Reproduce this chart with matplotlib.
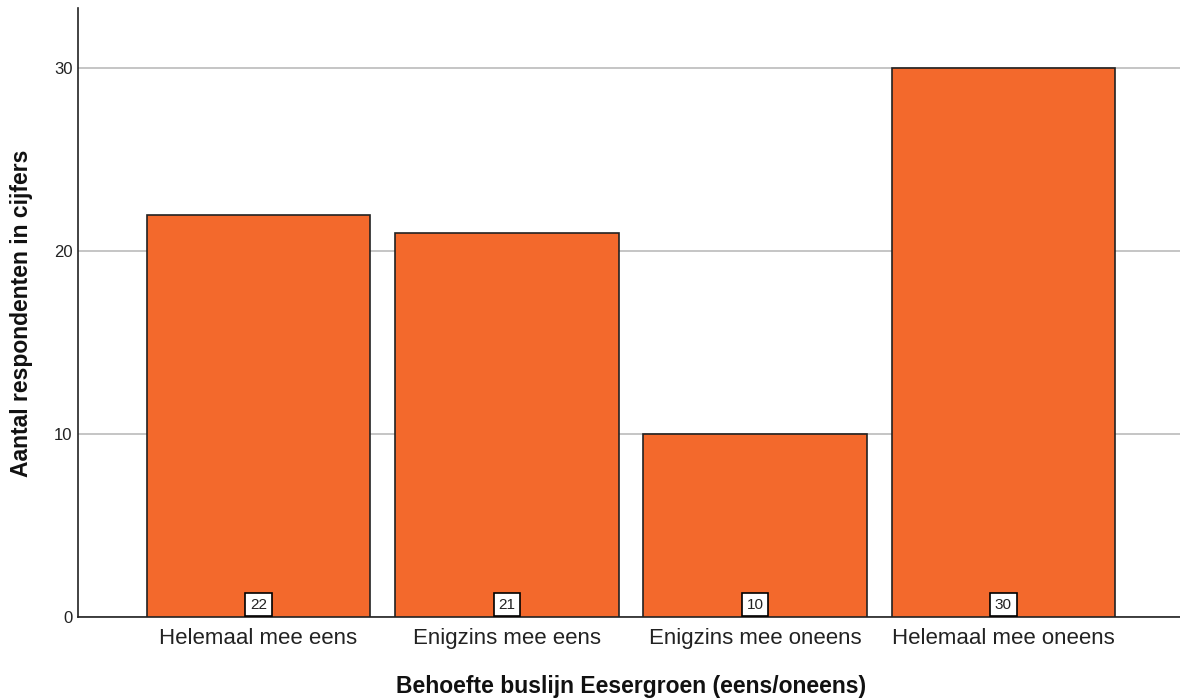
import matplotlib
matplotlib.use("Agg")
import matplotlib.pyplot as plt

plt.rcParams['font.family'] = ['Liberation Sans', 'DejaVu Sans']

categories = ["Helemaal mee eens", "Enigzins mee eens", "Enigzins mee oneens", "Helemaal mee oneens"]
counts = [22, 21, 10, 30]
yticks = [0, 10, 20, 30]

W, H = 1180, 699
fig = plt.figure(figsize=(W/100, H/100), dpi=100)
ax = fig.add_axes([78/W, 82/H, 1 - 78/W, (617-8)/H])

x = list(range(len(categories)))
ax.bar(x, counts, width=0.9, color="#F3692C", edgecolor="#222222", linewidth=1.2, zorder=3)
for xi, v in zip(x, counts):
    ax.text(xi, 0.28, str(v), ha="center", va="bottom", fontsize=11, color="#222222", zorder=4,
            bbox=dict(boxstyle="square,pad=0.3", fc="white", ec="black", lw=1.2))

ax.set_xlim(-0.727, 3.711)
ax.set_ylim(0, 33.3)
ax.set_yticks(yticks)
ax.set_xticks(x)
ax.set_xticklabels(categories, fontsize=16, color="#222222")
ax.tick_params(axis="y", labelsize=12, length=0, pad=4, colors="#222222")
ax.tick_params(axis="x", length=0, pad=8)
ax.grid(axis="y", color="#BBBBBB", linewidth=1.2, zorder=0)
ax.set_axisbelow(True)
for s in ["top", "right"]:
    ax.spines[s].set_visible(False)
for s in ["left", "bottom"]:
    ax.spines[s].set_linewidth(1.2)
    ax.spines[s].set_color("#222222")

fig.text(631/W, 1 - 686/H, "Behoefte buslijn Eesergroen (eens/oneens)", fontsize=16.5,
         fontweight="bold", ha="center", va="center", color="#111111")
fig.text(22/W, 1 - 313/H, "Aantal respondenten in cijfers", fontsize=16.5, rotation=90,
         fontweight="bold", ha="center", va="center", color="#111111")

fig.savefig("out.png", dpi=100)
